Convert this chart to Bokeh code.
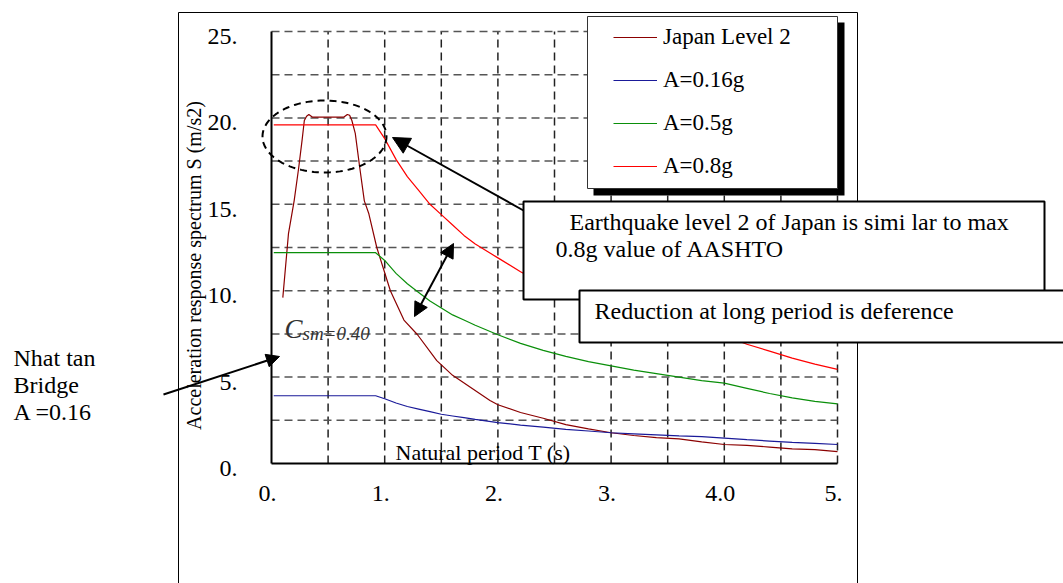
import numpy as np
from bokeh.plotting import figure
from bokeh.models import (Range1d, BoxAnnotation, Label, Arrow, NormalHead,
                          PolyAnnotation, Legend, LegendItem)
from bokeh.embed import file_html
from bokeh.resources import INLINE

# ---------------- data ----------------
period_japan = [0.10, 0.15, 0.20, 0.24, 0.27, 0.29, 0.31, 0.33, 0.36, 0.50, 0.64, 0.67, 0.69,
                0.71, 0.74, 0.78, 0.82, 0.86, 0.93, 1.05, 1.17, 1.29, 1.46, 1.60, 1.76, 1.93,
                2.0, 2.2, 2.4, 2.6, 2.8, 3.0, 3.2, 3.4, 3.6, 3.8, 4.0, 4.2, 4.4, 4.6, 4.8, 5.0]
accel_japan = [9.6, 13.3, 15.2, 17.1, 18.7, 19.85, 20.1, 20.2, 20.05, 20.05, 20.05, 20.2, 20.15,
               19.85, 19.1, 17.1, 15.2, 14.45, 12.5, 10.0, 8.3, 7.45, 5.95, 5.1, 4.4, 3.65,
               3.4, 2.95, 2.62, 2.25, 2.0, 1.78, 1.62, 1.5, 1.42, 1.25, 1.1, 1.05, 0.95, 0.85, 0.8, 0.69]

period_aashto = [0.02, 0.92, 1.0, 1.1, 1.2, 1.3, 1.4, 1.5, 1.6, 1.7, 1.8, 2.0, 2.2, 2.4, 2.6,
                 2.8, 3.0, 3.2, 3.4, 3.6, 3.8, 4.0, 4.2, 4.4, 4.6, 4.8, 5.0]
accel_016g = [3.92, 3.92, 3.75, 3.5, 3.3, 3.15, 3.0, 2.85, 2.75, 2.65, 2.55, 2.37, 2.22, 2.1, 1.98,
              1.88, 1.78, 1.72, 1.66, 1.6, 1.55, 1.47, 1.38, 1.30, 1.22, 1.16, 1.10]
accel_05g = [12.2, 12.2, 11.75, 11.0, 10.4, 9.9, 9.4, 9.0, 8.6, 8.3, 8.0, 7.45, 6.95, 6.55, 6.2,
             5.9, 5.65, 5.4, 5.2, 5.0, 4.8, 4.65, 4.35, 4.05, 3.8, 3.6, 3.45]
accel_08g = [19.6, 19.6, 18.8, 17.6, 16.6, 15.8, 15.0, 14.4, 13.8, 13.2, 12.7, 11.9, 11.1, 10.4, 9.9,
             9.4, 8.9, 8.6, 8.2, 7.9, 7.7, 7.4, 6.9, 6.5, 6.1, 5.75, 5.45]

series_names = ["Japan Level 2", "A=0.16g", "A=0.5g", "A=0.8g"]
series_colors = ["#8B0000", "#1a1a99", "#0a8f0a", "#ff0000"]

x_ticks = [0, 1, 2, 3, 4, 5]
x_tick_labels = ["0.", "1.", "2.", "3.", "4.0", "5."]
y_ticks = [0, 5, 10, 15, 20, 25]
y_tick_labels = ["0.", "5.", "10.", "15.", "20.", "25."]
x_grid_ticks = [0.5, 1.0, 1.5, 2.0, 2.5, 3.0, 3.5, 4.0, 4.5, 5.0]
y_grid_ticks = [2.5, 5.0, 7.5, 10.0, 12.5, 15.0, 17.5, 20.0, 22.5, 25.0]
x_lim = (0, 5)
y_lim = (0, 25)

# ---------------- layout ----------------
FONT = "Liberation Serif"
W, H = 1063, 583
# pixel box of the data area inside the page
FL, FT, FR, FB = 271, 31, 837, 463
kx = (FR - FL) / (x_lim[1] - x_lim[0])
ky = (FB - FT) / (y_lim[1] - y_lim[0])
x_range = Range1d(x_lim[0] - FL / kx, x_lim[1] + (W - FR) / kx)
y_range = Range1d(y_lim[0] - (H - FB) / ky, y_lim[1] + FT / ky)


def sx(px):
    return px


def sy(py):
    return H - py


p = figure(width=W, height=H, x_range=x_range, y_range=y_range,
           output_backend="svg", toolbar_location=None, x_axis_location=None,
           y_axis_location=None, min_border=0)
p.outline_line_color = None
p.background_fill_color = "white"
p.border_fill_color = "white"
p.grid.visible = False

# dashed grid
p.segment(x0=x_grid_ticks, y0=[y_lim[0]] * len(x_grid_ticks), x1=x_grid_ticks,
          y1=[y_lim[1]] * len(x_grid_ticks), line_color="#222222", line_width=1.5,
          line_dash="8 5")
p.segment(x0=[x_lim[0]] * len(y_grid_ticks), y0=y_grid_ticks, x1=[x_lim[1]] * len(y_grid_ticks),
          y1=y_grid_ticks, line_color="#555555", line_width=1.5, line_dash="8 5")
# axis lines
p.segment(x0=[x_lim[0], x_lim[0]], y0=[y_lim[0], y_lim[0]], x1=[x_lim[1], x_lim[0]],
          y1=[y_lim[0], y_lim[1]], line_color="black", line_width=2)
# tick labels
p.text(x=x_ticks, y=[y_lim[0]] * len(x_ticks), text=x_tick_labels, text_font=FONT,
       text_font_size="24px", text_color="black", text_align="center",
       text_baseline="middle", x_offset=-4, y_offset=30)
p.text(x=[x_lim[0]] * len(y_ticks), y=y_ticks, text=y_tick_labels, text_font=FONT,
       text_font_size="24px", text_color="black", text_align="right",
       text_baseline="middle", x_offset=-34, y_offset=5)

# ---------------- curves ----------------
r_jp = p.line(period_japan, accel_japan, line_color=series_colors[0], line_width=1.2)
r_016 = p.line(period_aashto, accel_016g, line_color=series_colors[1], line_width=1.2)
r_05 = p.line(period_aashto, accel_05g, line_color=series_colors[2], line_width=1.2)
r_08 = p.line(period_aashto, accel_08g, line_color=series_colors[3], line_width=1.2)

# ---------------- annotations ----------------
def box(l, t, r, b, **kw):
    return BoxAnnotation(left=sx(l), right=sx(r), top=sy(t), bottom=sy(b),
                         left_units="screen", right_units="screen",
                         top_units="screen", bottom_units="screen", **kw)


def label(x, y, text, size, **kw):
    kw.setdefault("text_baseline", "middle")
    kw.setdefault("text_color", "black")
    return Label(x=sx(x), y=sy(y), x_units="screen", y_units="screen", text=text,
                 text_font=FONT, text_font_size=size, **kw)


# outer chart box
p.add_layout(box(178, 12, 857, 640, fill_alpha=0, line_color="black", line_alpha=1,
                 line_width=1))

# C_sm text
p.add_layout(label(284, 328, "C", "27px", text_font_style="italic", text_color="#333333"))
p.add_layout(label(302, 333, "sm=0.40", "19px", text_font_style="italic",
                   text_color="#333333"))

# x axis title inside plot
p.add_layout(label(395, 452, "Natural period T (s)", "22px"))

# y axis title
p.add_layout(label(193, 265, "Acceleration response spectrum S (m/s2)", "20px",
                   angle=np.pi / 2, text_align="center"))

# left note
for txt, yy in zip(["Nhat tan", "Bridge", "A =0.16"], [357, 384, 411]):
    p.add_layout(label(13, yy, txt, "24px"))

# text boxes
p.add_layout(box(523, 201, 1044, 299, fill_color="white", fill_alpha=1, line_color="black",
                 line_alpha=1, line_width=2))
p.add_layout(label(569, 221, "Earthquake level 2 of Japan is simi lar to max", "24px"))
p.add_layout(label(555, 248, "0.8g value of AASHTO", "24px"))
p.add_layout(box(579, 290, 1080, 342, fill_color="white", fill_alpha=1, line_color="black",
                 line_alpha=1, line_width=2))
p.add_layout(label(594, 310, "Reduction at long period is deference", "24px"))

# dashed ellipse around the peak
t = np.linspace(0, 2 * np.pi, 120)
ex = [sx(324 + 62 * np.cos(a)) for a in t]
ey = [sy(136 + 36 * np.sin(a)) for a in t]
p.add_layout(PolyAnnotation(xs=ex, ys=ey, xs_units="screen", ys_units="screen",
                            fill_alpha=0, line_color="black", line_alpha=1, line_width=2,
                            line_dash="7 5"))

# arrows
def head(size):
    return NormalHead(size=size, fill_color="black", line_color="black")


p.add_layout(Arrow(end=head(17), x_start=sx(523), y_start=sy(210), x_end=sx(392),
                   y_end=sy(137), start_units="screen", end_units="screen", line_width=2,
                   line_color="black"))
p.add_layout(Arrow(start=head(14), end=head(14), x_start=sx(414), y_start=sy(316),
                   x_end=sx(453), y_end=sy(243), start_units="screen", end_units="screen",
                   line_width=2, line_color="black"))
p.add_layout(Arrow(end=head(13), x_start=sx(163), y_start=sy(394), x_end=sx(279),
                   y_end=sy(356), start_units="screen", end_units="screen", line_width=2,
                   line_color="black"))

# legend frame with shadow
p.add_layout(box(593, 22, 844, 195, fill_color="black", fill_alpha=1, line_alpha=0))
p.add_layout(box(587, 16, 837, 188, fill_color="white", fill_alpha=1, line_color="#333333",
                 line_alpha=1, line_width=1))

legend = Legend(items=[LegendItem(label=n, renderers=[r]) for n, r in
                       zip(series_names, [r_jp, r_016, r_05, r_08])],
                location=(sx(613), sy(180)), padding=0, margin=0, spacing=15,
                glyph_width=44, glyph_height=28, label_height=28, label_standoff=6,
                label_text_font=FONT, label_text_font_size="23px", label_text_color="black",
                border_line_alpha=0, background_fill_alpha=0)
p.add_layout(legend)

open("out.html", "w").write(file_html(p, INLINE))
